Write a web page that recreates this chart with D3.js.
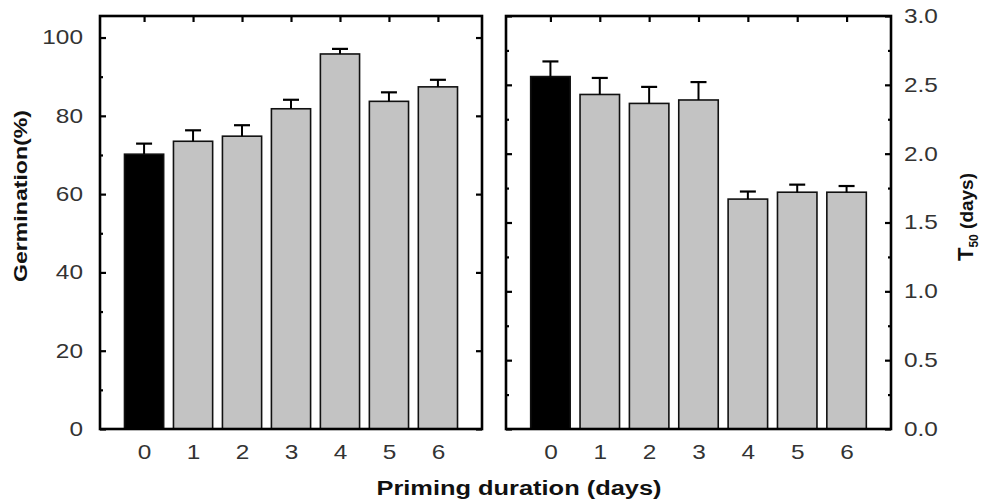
<!DOCTYPE html>
<html>
<head>
<meta charset="utf-8">
<script src="https://cdn.jsdelivr.net/npm/d3@7"></script>
<style>
  body { margin: 0; background: #fff; }
  svg text { font-family: Arial, "Liberation Sans", sans-serif; }
</style>
</head>
<body>
<div id="chart"></div>
<script>
// priming duration (days)
var days = [0, 1, 2, 3, 4, 5, 6];
// germination (%) and its error
var germination = [70.2, 73.5, 74.8, 81.8, 95.8, 83.7, 87.4];
var germErr = [2.7, 2.8, 2.8, 2.3, 1.3, 2.3, 1.8];
// T50 (days) and its error
var t50 = [2.56, 2.43, 2.365, 2.39, 1.67, 1.72, 1.72];
var t50Err = [0.11, 0.12, 0.12, 0.13, 0.055, 0.055, 0.045];
// tick values
var germTicks = [0, 20, 40, 60, 80, 100];
var germMinor = [10, 30, 50, 70, 90];
var t50Ticks = [0, 0.5, 1.0, 1.5, 2.0, 2.5, 3.0];
var t50Minor = [0.25, 0.75, 1.25, 1.75, 2.25, 2.75];

function init() {
    var w = 988, h = 504;
    var sx = 1.22; // the text in the picture is stretched sideways
    var top = 16, bottom = 429;

    var svg = d3.select("#chart")
        .append("svg")
        .attr("width", w)
        .attr("height", h);

    // stretch axis labels horizontally around their anchor
    function stretch(sel) {
        sel.each(function () {
            var t = d3.select(this);
            var x = +t.attr("x") || 0, y = +t.attr("y") || 0;
            t.attr("x", 0).attr("y", 0)
                .attr("transform", "translate(" + x + "," + y + ") scale(" + sx + ",1)");
        });
    }

    function panel(left, right, values, errs, yDomain, major, minor, side) {
        var x = d3.scaleLinear().domain([-0.9, 6.9]).range([left, right]);
        var y = d3.scaleLinear().domain(yDomain).range([bottom, top]);
        var bw = x(0.8) - x(0);
        var g = svg.append("g");

        // bars
        g.selectAll("rect.bar")
            .data(values)
            .enter()
            .append("rect")
            .attr("class", "bar")
            .attr("x", function (d, i) { return x(days[i]) - bw / 2; })
            .attr("y", function (d) { return y(d); })
            .attr("width", bw)
            .attr("height", function (d) { return y(0) - y(d); })
            .attr("fill", function (d, i) { return i === 0 ? "#000" : "#c3c3c3"; })
            .attr("stroke", "#111")
            .attr("stroke-width", 1.6);

        // error bars (upper only)
        g.selectAll("line.err")
            .data(values)
            .enter()
            .append("line")
            .attr("class", "err")
            .attr("x1", function (d, i) { return x(days[i]); })
            .attr("x2", function (d, i) { return x(days[i]); })
            .attr("y1", function (d) { return y(d); })
            .attr("y2", function (d, i) { return y(d + errs[i]); })
            .attr("stroke", "#000")
            .attr("stroke-width", 2);
        g.selectAll("line.cap")
            .data(values)
            .enter()
            .append("line")
            .attr("class", "cap")
            .attr("x1", function (d, i) { return x(days[i]) - 8; })
            .attr("x2", function (d, i) { return x(days[i]) + 8; })
            .attr("y1", function (d, i) { return y(d + errs[i]); })
            .attr("y2", function (d, i) { return y(d + errs[i]); })
            .attr("stroke", "#000")
            .attr("stroke-width", 2.2);

        // bottom labels
        g.append("g")
            .attr("transform", "translate(0," + bottom + ")")
            .call(d3.axisBottom(x).tickValues(days).tickFormat(d3.format("d"))
                .tickSizeInner(0).tickSizeOuter(0).tickPadding(16));
        // top ticks
        g.append("g")
            .attr("transform", "translate(0," + top + ")")
            .call(d3.axisTop(x).tickValues(days).tickFormat("")
                .tickSizeInner(-6).tickSizeOuter(0));

        var fmt = side === "left" ? d3.format("d") : d3.format(".1f");
        if (side === "left") {
            g.append("g").attr("transform", "translate(" + left + ",0)")
                .call(d3.axisLeft(y).tickValues(major).tickFormat(fmt)
                    .tickSizeInner(-6).tickSizeOuter(0).tickPadding(17));
            g.append("g").attr("transform", "translate(" + right + ",0)")
                .call(d3.axisRight(y).tickValues(major).tickFormat("")
                    .tickSizeInner(-6).tickSizeOuter(0));
            g.append("g").attr("transform", "translate(" + left + ",0)")
                .call(d3.axisLeft(y).tickValues(minor).tickFormat("")
                    .tickSizeInner(-3).tickSizeOuter(0));
        } else {
            g.append("g").attr("transform", "translate(" + right + ",0)")
                .call(d3.axisRight(y).tickValues(major).tickFormat(fmt)
                    .tickSizeInner(-6).tickSizeOuter(0).tickPadding(13));
            g.append("g").attr("transform", "translate(" + left + ",0)")
                .call(d3.axisLeft(y).tickValues(major).tickFormat("")
                    .tickSizeInner(-6).tickSizeOuter(0));
            g.append("g").attr("transform", "translate(" + left + ",0)")
                .call(d3.axisLeft(y).tickValues(minor).tickFormat("")
                    .tickSizeInner(-3).tickSizeOuter(0));
            g.append("g").attr("transform", "translate(" + right + ",0)")
                .call(d3.axisRight(y).tickValues(minor).tickFormat("")
                    .tickSizeInner(-3).tickSizeOuter(0));
        }

        g.selectAll(".domain").remove();
        g.selectAll(".tick line").attr("stroke", "#000").attr("stroke-width", 2.2);
        g.selectAll(".tick text")
            .attr("font-size", 20)
            .attr("font-family", "Arial, 'Liberation Sans', sans-serif")
            .attr("fill", "#333")
            .call(stretch);

        // frame
        g.append("rect")
            .attr("x", left)
            .attr("y", top)
            .attr("width", right - left)
            .attr("height", bottom - top)
            .attr("fill", "none")
            .attr("stroke", "#000")
            .attr("stroke-width", 2.6);
    }

    panel(100, 482, germination, germErr, [0, 105.5], germTicks, germMinor, "left");
    panel(506, 891, t50, t50Err, [0, 3], t50Ticks, t50Minor, "right");

    // axis titles
    svg.append("text")
        .attr("x", 519)
        .attr("y", 495)
        .attr("text-anchor", "middle")
        .attr("font-size", 20)
        .attr("font-weight", "bold")
        .attr("fill", "#111")
        .attr("textLength", 285)
        .attr("lengthAdjust", "spacingAndGlyphs")
        .text("Priming duration (days)");

    svg.append("text")
        .attr("transform", "translate(27,196) rotate(-90)")
        .attr("text-anchor", "middle")
        .attr("font-size", 18)
        .attr("font-weight", "bold")
        .attr("fill", "#111")
        .attr("textLength", 172)
        .attr("lengthAdjust", "spacingAndGlyphs")
        .text("Germination(%)");

    var t = svg.append("text")
        .attr("transform", "translate(973,217) rotate(-90)")
        .attr("text-anchor", "middle")
        .attr("font-weight", "bold")
        .attr("fill", "#111")
        .attr("textLength", 88)
        .attr("lengthAdjust", "spacingAndGlyphs");
    t.append("tspan").attr("font-size", 22).text("T");
    t.append("tspan").attr("font-size", 12).attr("dy", 5).text("50");
    t.append("tspan").attr("font-size", 19).attr("dy", -5).text(" (days)");
}

window.onload = init;
</script>
</body>
</html>
